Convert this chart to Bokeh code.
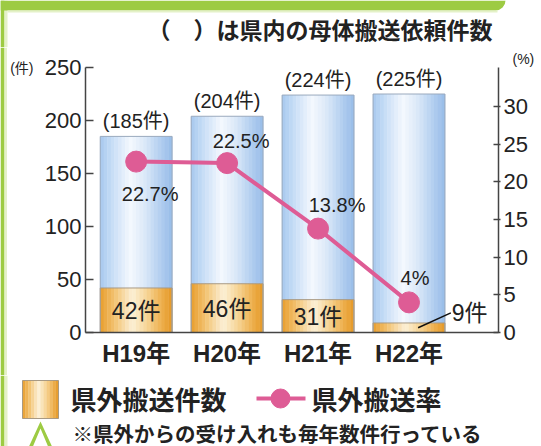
from bokeh.plotting import figure
from bokeh.layouts import column, row
from bokeh.models import (Range1d, LinearAxis, ColumnDataSource, FixedTicker, Title)
from bokeh.core.properties import value
from bokeh.embed import file_html
from bokeh.resources import INLINE

# ---------------- data ----------------
years = ["H19年", "H20年", "H21年", "H22年"]
total_requests = [185, 204, 224, 225]      # 県内の母体搬送依頼件数 ( )
out_of_pref = [42, 46, 31, 9]              # 県外搬送件数
out_rate = [22.7, 22.5, 13.8, 4.0]         # 県外搬送率 (%)
rate_labels = ["22.7%", "22.5%", "13.8%", "4%"]
left_ticks = [0, 50, 100, 150, 200, 250]
right_ticks = [0, 5, 10, 15, 20, 25, 30]

# ---------------- style ----------------
FONT = "Liberation Sans, Noto Sans CJK JP"
JFONT = "Noto Sans CJK JP"
PINK = "#de5c95"
TXT = "#222222"
AX = "#444444"
GREEN = "#9dcb43"
PALE_GREEN = "#e4f1c8"

W = 541
STRIPE_W = 7
TOP_H, MAIN_H, BOT_H = 47, 328, 71
XR = (-0.557, 3.984)
YR = (0, 250)
PR = (0, 35.2)
FL, FR, FT, FB = 83, 498, 67, 332   # frame edges in page pixels


def hex2rgb(h):
    return tuple(int(h[i:i + 2], 16) for i in (1, 3, 5))


def interp(stops, t):
    for (t0, c0), (t1, c1) in zip(stops, stops[1:]):
        if t0 <= t <= t1:
            f = (t - t0) / (t1 - t0) if t1 > t0 else 0
            a, b = hex2rgb(c0), hex2rgb(c1)
            return "#%02x%02x%02x" % tuple(round(a[k] + (b[k] - a[k]) * f) for k in range(3))
    return stops[-1][1]


BLUE_STOPS = [(0.0, "#a7c8ee"), (0.15, "#c3dbf5"), (0.42, "#f4f8fe"),
              (0.62, "#dbe9f8"), (0.85, "#b0cdef"), (1.0, "#97bce8")]
ORANGE_STOPS = [(0.0, "#e89d2c"), (0.2, "#f2c271"), (0.45, "#fcf0d6"),
                (0.65, "#f6d596"), (0.85, "#eeb04f"), (1.0, "#e49826")]

BW = 0.79
N = 20


def plain(width, height, y0):
    """Figure whose frame covers the whole canvas, data units = page pixels."""
    f = figure(width=width, height=height, output_backend="svg", toolbar_location=None,
               x_range=Range1d(0, width), y_range=Range1d(y0 + height, y0),
               min_border=0, x_axis_location=None, y_axis_location=None,
               frame_align=False)
    f.grid.visible = False
    f.outline_line_color = None
    f.background_fill_color = "white"
    f.border_fill_color = "white"
    # green frame decoration at the left edge
    f.quad(left=0, right=4, top=y0, bottom=y0 + height, fill_color=GREEN, line_color=None)
    f.quad(left=4, right=7, top=y0, bottom=y0 + height, fill_color=PALE_GREEN, line_color=None)
    return f


# ================= top strip: heading =================
top = plain(W, TOP_H, 0)
top.quad(left=0, right=505, top=0, bottom=10, fill_color=GREEN, line_color=None,
         border_radius=(0, 0, 10, 0))
top.quad(left=7, right=497, top=10, bottom=12, fill_color=PALE_GREEN, line_color=None)
top.text(x=[492], y=[28], text=["（　）は県内の母体搬送依頼件数"], text_align="right",
         text_baseline="middle", text_font=value(JFONT), text_font_size="23px",
         text_font_style="bold", text_color=TXT)

# ================= left edge of the middle band =================
stripe = plain(STRIPE_W, MAIN_H, TOP_H)

# ================= main chart =================
p = figure(width=W - STRIPE_W, height=MAIN_H, output_backend="svg", toolbar_location=None,
           x_range=Range1d(*XR), y_range=Range1d(*YR), frame_align=False,
           min_border_left=FL - STRIPE_W, min_border_right=W - FR,
           min_border_top=FT - TOP_H, min_border_bottom=TOP_H + MAIN_H - FB)
p.extra_y_ranges = {"pct": Range1d(*PR)}
p.grid.visible = False
p.outline_line_color = None
p.background_fill_color = "white"
p.border_fill_color = "white"

# x axis (categories)
xa = p.xaxis[0]
xa.ticker = FixedTicker(ticks=list(range(len(years))))
xa.major_label_overrides = {i: y for i, y in enumerate(years)}
xa.major_tick_in = 0
xa.major_tick_out = 0
xa.minor_tick_line_color = None
xa.axis_line_color = AX
xa.axis_line_width = 1.5
xa.major_label_text_font = FONT
xa.major_label_text_font_size = "24px"
xa.major_label_text_font_style = "bold"
xa.major_label_text_color = TXT
xa.major_label_standoff = 7

# left axis
ya = p.yaxis[0]
ya.ticker = FixedTicker(ticks=left_ticks)
ya.major_tick_in = 8
ya.major_tick_out = 0
ya.minor_tick_line_color = None
ya.axis_line_color = AX
ya.axis_line_width = 1.5
ya.major_tick_line_color = AX
ya.major_tick_line_width = 1.5
ya.major_label_text_font = FONT
ya.major_label_text_font_size = "22px"
ya.major_label_text_color = TXT
ya.major_label_standoff = 4

# unit of the left axis: "(件)" next to the top tick
ua = LinearAxis(ticker=FixedTicker(ticks=[YR[1]]), major_label_overrides={YR[1]: "(件)"})
ua.axis_line_color = None
ua.major_tick_line_color = None
ua.minor_tick_line_color = None
ua.major_label_text_font = FONT
ua.major_label_text_font_size = "14px"
ua.major_label_text_color = TXT
ua.major_label_standoff = 2
p.add_layout(ua, "left")

# right axis
ra = LinearAxis(y_range_name="pct", ticker=FixedTicker(ticks=right_ticks))
ra.major_tick_in = 5
ra.major_tick_out = 2
ra.minor_tick_line_color = None
ra.axis_line_color = AX
ra.axis_line_width = 1.5
ra.major_tick_line_color = AX
ra.major_tick_line_width = 1.5
ra.major_label_text_font = FONT
ra.major_label_text_font_size = "22px"
ra.major_label_text_color = TXT
ra.major_label_standoff = 3
p.add_layout(ra, "right")

# unit of the right axis: "(%)"
p.add_layout(Title(text="(%)", align="left", offset=510 - FL, standoff=2,
                   text_font=FONT, text_font_size="14px", text_font_style="normal",
                   text_color=TXT), "above")

# ---------------- gradient bars ----------------
bx, bb, bt, bc = [], [], [], []
ox, ob, ot, oc = [], [], [], []
for i in range(len(years)):
    for k in range(N):
        t = (k + 0.5) / N
        xk = i - BW / 2 + t * BW
        bx.append(xk); bb.append(out_of_pref[i]); bt.append(total_requests[i])
        bc.append(interp(BLUE_STOPS, t))
        ox.append(xk); ob.append(0); ot.append(out_of_pref[i])
        oc.append(interp(ORANGE_STOPS, t))

p.vbar(x="x", width=BW / N * 1.12, bottom="b", top="t", fill_color="c", line_color=None,
       source=ColumnDataSource(dict(x=bx, b=bb, t=bt, c=bc)))
p.vbar(x="x", width=BW / N * 1.12, bottom="b", top="t", fill_color="c", line_color=None,
       source=ColumnDataSource(dict(x=ox, b=ob, t=ot, c=oc)))

idx = list(range(len(years)))
p.vbar(x=idx, width=BW, bottom=0, top=total_requests, fill_color=None,
       line_color="#9aa9bd", line_width=1)
p.vbar(x=idx, width=BW, bottom=0, top=out_of_pref, fill_color=None,
       line_color="#a89a84", line_width=1)

# ---------------- rate line ----------------
p.line(x=idx, y=out_rate, y_range_name="pct", line_color=PINK, line_width=4)
p.scatter(x=idx, y=out_rate, y_range_name="pct", size=21, fill_color=PINK,
          line_color=PINK, marker="circle")

# ---------------- labels ----------------
total_text = ["(%d件)" % v for v in total_requests]
p.text(x=idx, y=total_requests, text=total_text, text_align="center",
       text_baseline="bottom", y_offset=-4, text_font=value(FONT),
       text_font_size="20px", text_color=TXT)

inside = [i for i in idx if out_of_pref[i] >= 20]
outside = [i for i in idx if out_of_pref[i] < 20]
p.text(x=inside, y=[out_of_pref[i] / 2 for i in inside],
       text=["%d件" % out_of_pref[i] for i in inside], text_align="center",
       text_baseline="middle", y_offset=1, text_font=value(FONT),
       text_font_size="23px", text_color=TXT)
for i in outside:
    v = out_of_pref[i]
    p.segment(x0=[i + 0.1], y0=[v / 2], x1=[i + 0.46], y1=[v / 2 + 14],
              line_color="#111111", line_width=1.5)
    p.text(x=[i + 0.47], y=[v / 2 + 14], text=["%d件" % v], text_align="left",
           text_baseline="middle", text_font=value(FONT), text_font_size="23px",
           text_color=TXT)

rate_dx = [14, 14, 19, 6]
rate_dy = [32, -22, -24, -24]
p.text(x=idx, y=out_rate, y_range_name="pct", text=rate_labels,
       x_offset=rate_dx, y_offset=rate_dy, text_align="center",
       text_baseline="middle", text_font=value(FONT), text_font_size="20px",
       text_color=TXT)

# ================= bottom strip: legend + note =================
Y0 = TOP_H + MAIN_H
bot = plain(W, BOT_H, Y0)
LS = 12
lx = [22 + 36 * (k + 0.5) / LS for k in range(LS)]
bot.vbar(x=lx, width=36 / LS * 1.1, top=380, bottom=418,
         fill_color=[interp(ORANGE_STOPS, (k + 0.5) / LS) for k in range(LS)],
         line_color=None)
bot.quad(left=22, right=58, top=380, bottom=418, fill_color=None,
         line_color="#a89a84", line_width=1)
bot.text(x=[70], y=[398], text=["県外搬送件数"], text_align="left", text_baseline="middle",
         text_font=value(JFONT), text_font_size="26px", text_font_style="bold",
         text_color=TXT)
bot.line(x=[256, 305], y=[398, 398], line_color=PINK, line_width=4)
bot.scatter(x=[280], y=[398], size=19, marker="circle", fill_color=PINK, line_color=PINK)
bot.text(x=[311], y=[398], text=["県外搬送率"], text_align="left", text_baseline="middle",
         text_font=value(JFONT), text_font_size="26px", text_font_style="bold",
         text_color=TXT)
bot.text(x=[72], y=[432], text=["※県外からの受け入れも毎年数件行っている"],
         text_align="left", text_baseline="middle", text_font=value(JFONT),
         text_font_size="20.5px", text_font_style="bold", text_color=TXT)
bot.patch(x=[28, 40, 52, 48, 40, 32], y=[447, 421, 447, 447, 428, 447],
          fill_color=GREEN, line_color=None)

layout = column(top, row(stripe, p, spacing=0), bot, spacing=0)
open("out.html", "w").write(file_html(layout, INLINE))
